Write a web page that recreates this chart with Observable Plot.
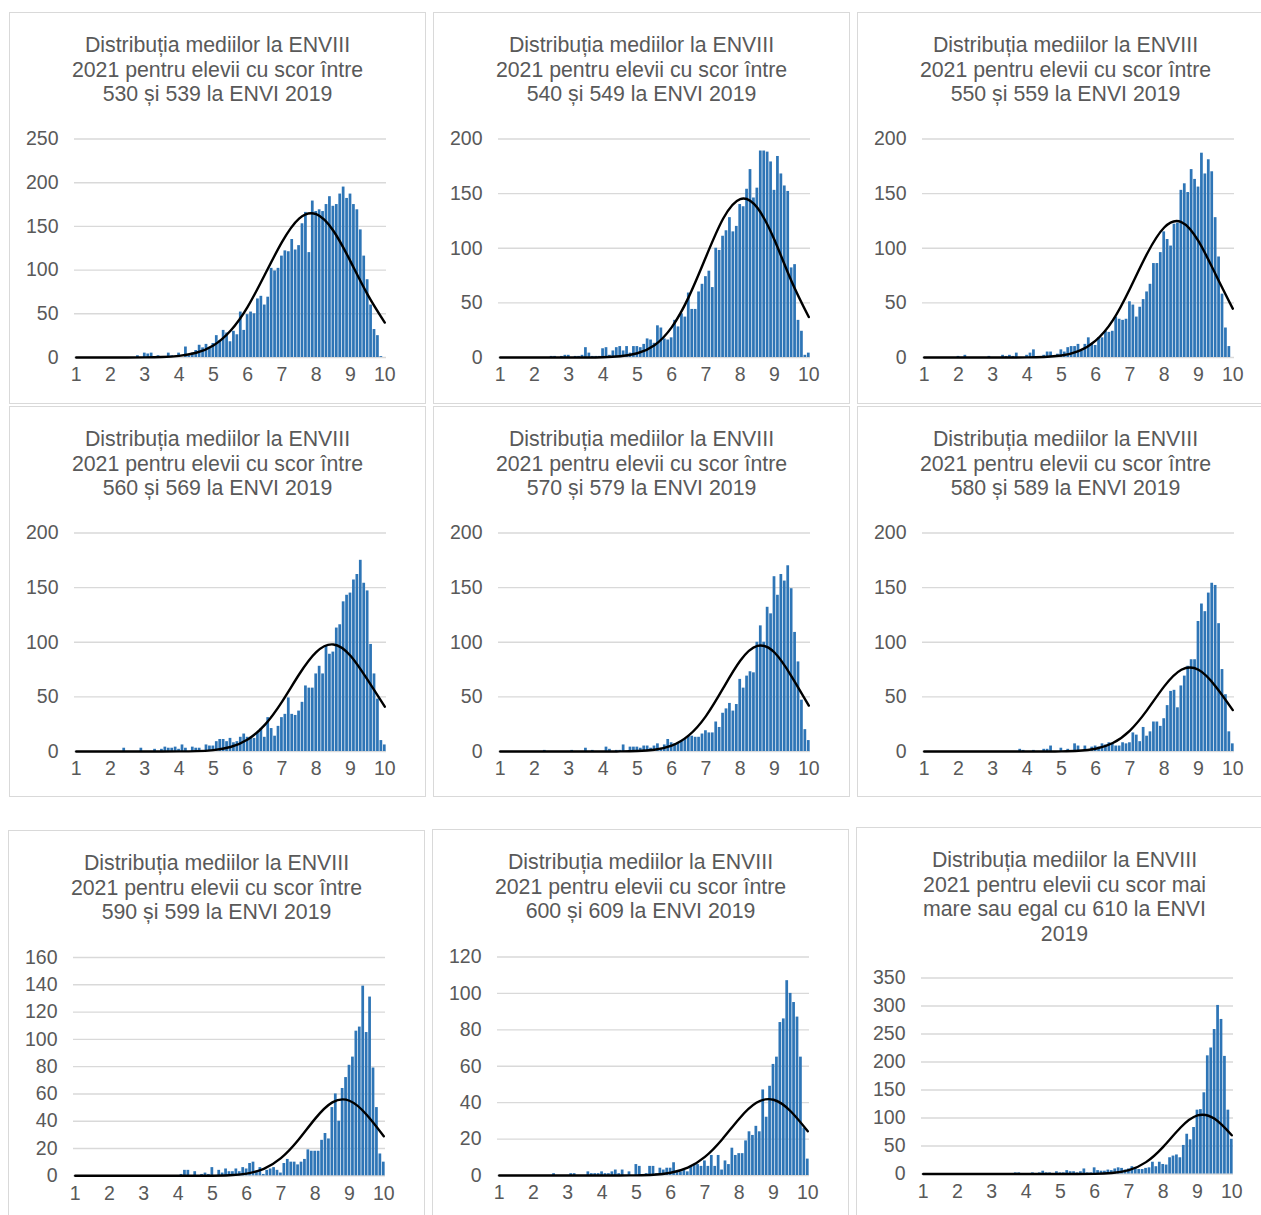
<!DOCTYPE html>
<html>
<head>
<meta charset="utf-8">
<script src="https://cdn.jsdelivr.net/npm/d3@7"></script>
<script src="https://cdn.jsdelivr.net/npm/@observablehq/plot@0.6"></script>
<style>
html,body{margin:0;padding:0;background:#fff;}
body{width:1261px;height:1215px;overflow:hidden;position:relative;font-family:"Liberation Sans",Arial,sans-serif;}
.panel{position:absolute;box-sizing:border-box;border:1px solid #d9d9d9;background:#fff;overflow:hidden;}
.title{position:absolute;left:0;right:0;top:20px;text-align:center;color:#595959;font-size:21.3px;line-height:24.5px;white-space:pre-line;}
.panel svg{position:absolute;left:0;top:0;}
</style>
</head>
<body>
<script>
// bins of the ENVIII 2021 average (category axis)
const bins = [1,1.1,1.2,1.3,1.4,1.5,1.6,1.7,1.8,1.9,
  2,2.1,2.2,2.3,2.4,2.5,2.6,2.7,2.8,2.9,
  3,3.1,3.2,3.3,3.4,3.5,3.6,3.7,3.8,3.9,
  4,4.1,4.2,4.3,4.4,4.5,4.6,4.7,4.8,4.9,
  5,5.1,5.2,5.3,5.4,5.5,5.6,5.7,5.8,5.9,
  6,6.1,6.2,6.3,6.4,6.5,6.6,6.7,6.8,6.9,
  7,7.1,7.2,7.3,7.4,7.5,7.6,7.7,7.8,7.9,
  8,8.1,8.2,8.3,8.4,8.5,8.6,8.7,8.8,8.9,
  9,9.1,9.2,9.3,9.4,9.5,9.6,9.7,9.8,9.9,
  10];
const xTicks = [1,2,3,4,5,6,7,8,9,10];

const titles = [
  "Distribuția mediilor la ENVIII\n2021 pentru elevii cu scor între\n530 și 539 la ENVI 2019",
  "Distribuția mediilor la ENVIII\n2021 pentru elevii cu scor între\n540 și 549 la ENVI 2019",
  "Distribuția mediilor la ENVIII\n2021 pentru elevii cu scor între\n550 și 559 la ENVI 2019",
  "Distribuția mediilor la ENVIII\n2021 pentru elevii cu scor între\n560 și 569 la ENVI 2019",
  "Distribuția mediilor la ENVIII\n2021 pentru elevii cu scor între\n570 și 579 la ENVI 2019",
  "Distribuția mediilor la ENVIII\n2021 pentru elevii cu scor între\n580 și 589 la ENVI 2019",
  "Distribuția mediilor la ENVIII\n2021 pentru elevii cu scor între\n590 și 599 la ENVI 2019",
  "Distribuția mediilor la ENVIII\n2021 pentru elevii cu scor între\n600 și 609 la ENVI 2019",
  "Distribuția mediilor la ENVIII\n2021 pentru elevii cu scor mai\nmare sau egal cu 610 la ENVI\n2019"
];

const counts530 = [0,0,0,0,0,0,0,0,0,0, 0,0,0,0,0,0,0,0,2,0, 5,4,5,0,2,1,0,5,2,0, 5,0,12,2,5,8,14,11,15,11,
  16,25,19,31,28,18,30,26,52,31, 49,52,50,67,70,60,69,102,99,102, 116,122,121,135,123,128,153,166,120,179,
  167,169,167,175,184,173,175,187,195,182, 187,175,169,146,116,89,60,32,25,1, 0];
const counts540 = [0,0,0,0,0,0,0,0,0,0, 0,0,0,0,0,1,1,0,1,2, 2,0,1,1,2,9,4,1,1,1, 8,9,2,6,9,10,6,10,4,10,
  10,9,12,17,16,13,29,27,17,16, 18,34,28,40,37,59,44,44,60,67, 74,79,64,100,98,111,116,128,115,120,
  140,138,154,172,146,155,189,189,188,179, 153,184,168,157,152,82,85,34,24,2, 4];
const counts550 = [0,0,0,0,0,0,0,0,0,0, 1,0,2,0,0,0,0,0,0,1, 0,0,0,2,1,2,1,4,0,0, 2,4,7,0,0,2,5,5,0,3,
  7,5,9,10,10,12,6,12,18,12, 11,18,18,24,23,24,37,35,34,35, 51,48,37,46,53,60,67,86,86,96,
  115,108,102,122,123,153,159,151,172,163, 156,187,168,181,170,128,92,58,27,10, 0];
const counts560 = [0,0,0,0,0,0,0,0,0,0, 0,0,0,0,3,0,0,0,0,3, 0,0,0,2,0,2,4,3,3,4, 2,6,3,0,4,3,3,0,6,5,
  5,9,11,11,9,12,8,9,13,16, 13,13,12,17,21,13,31,21,14,23, 31,34,49,34,33,37,45,60,58,58,
  71,78,71,97,89,91,113,116,137,143, 145,157,162,175,154,147,98,71,48,10, 6];
const counts570 = [0,0,0,0,0,0,0,0,0,0, 0,0,0,1,0,0,0,0,0,0, 0,1,0,0,0,3,0,1,0,0, 0,4,2,0,1,1,6,0,4,4,
  4,3,5,5,3,5,7,2,6,11, 8,7,8,10,11,14,14,13,13,16, 19,17,17,27,22,35,39,44,37,43,
  66,58,69,73,72,100,115,100,132,126, 160,143,162,156,170,149,109,82,47,20, 10];
const counts580 = [0,0,0,0,0,0,0,0,0,0, 0,0,0,0,0,0,0,0,0,0, 0,0,0,0,0,0,0,0,2,1, 0,0,1,0,0,2,2,5,0,0,
  3,0,2,0,7,5,0,5,0,4, 5,4,7,6,8,7,5,5,8,7, 8,17,15,9,22,14,18,27,27,23,
  30,42,55,56,40,60,69,78,84,84, 119,135,128,145,154,152,117,75,52,18, 7];
const counts590 = [0,0,0,0,0,0,0,0,0,0, 0,0,0,0,0,0,0,0,0,0, 0,0,0,0,0,0,0,0,0,0, 0,1,4,4,0,3,0,1,2,1,
  6,0,4,2,5,3,3,5,3,6, 5,9,10,3,6,1,4,5,6,4, 2,9,12,10,10,8,10,12,19,18,
  18,18,26,31,27,50,60,40,64,72, 81,87,106,109,139,105,131,79,50,16, 10];
const counts600 = [0,0,0,0,0,0,0,0,0,0, 0,0,0,0,0,0,1,0,0,0, 0,1,1,0,0,0,2,1,1,1, 2,1,1,2,3,1,3,0,2,0,
  6,5,0,1,5,5,1,4,3,4, 4,7,2,2,3,2,5,6,6,5, 8,5,11,5,11,3,8,6,15,11,
  12,12,19,24,22,27,24,47,32,49, 61,65,84,86,107,100,95,87,65,26, 9];
const counts610 = [0,0,0,0,0,0,0,0,0,0, 0,0,0,0,0,0,0,0,0,0, 0,0,0,0,0,0,0,2,2,0, 0,0,2,0,2,5,2,2,0,4,
  2,2,6,4,4,2,4,9,2,2, 11,6,5,5,7,6,9,11,10,7, 9,13,11,8,8,10,11,21,13,21,
  17,16,29,32,34,29,51,71,61,83, 114,115,145,211,225,258,301,276,210,114, 62];

// fitted normal curve, read at every half point
const curveX = [1,1.5,2,2.5,3,3.5,4,4.5,5,5.5,6,6.5,7,7.5,8,8.5,9,9.5,10];
const curve530 = [0,0,0,0,0.1,0.5,1.8,5.4,13.8,30.6,58,94.6,132,159,164,145,110,72,40];
const curve540 = [0,0,0,0,0,0.05,0.25,1.1,3.9,11.3,27.6,55.5,92,127,145,137,107.5,69.6,37];
const curve550 = [0,0,0,0,0,0,0.1,0.5,1.8,5.8,15.5,34,63,95,119,124,106.5,76,44.7];
const curve560 = [0,0,0,0,0,0,0.07,0.33,1.3,4.1,11,24.4,45.5,70.5,91,98,87.7,65.5,41];
const curve570 = [0,0,0,0,0,0,0,0.07,0.4,1.6,5.3,14.7,32.4,57.7,83,96.6,90.6,68.6,42];
const curve580 = [0,0,0,0,0,0,0,0,0.13,0.64,2.5,7.8,19.2,37.9,59.6,74.8,74.8,59.6,37.9];
const curve590 = [0,0,0,0,0,0,0,0,0.08,0.4,1.6,5.1,12.9,26,41.9,53.8,55,44.8,29];
const curve600 = [0,0,0,0,0,0,0,0,0.09,0.4,1.5,4.3,10.2,19.8,31.2,39.9,41.6,35.3,24.3];
const curve610 = [0,0,0,0,0,0,0,0,0,0,0.3,1.7,6.9,21.2,48.5,82.6,104.6,98.6,69.2];

const yTicks250 = [0,50,100,150,200,250];
const yTicks200 = [0,50,100,150,200];
const yTicks160 = [0,20,40,60,80,100,120,140,160];
const yTicks120 = [0,20,40,60,80,100,120];
const yTicks350 = [0,50,100,150,200,250,300,350];

const series = [
  {title: titles[0], counts: counts530, curve: curve530, yTicks: yTicks250},
  {title: titles[1], counts: counts540, curve: curve540, yTicks: yTicks200},
  {title: titles[2], counts: counts550, curve: curve550, yTicks: yTicks200},
  {title: titles[3], counts: counts560, curve: curve560, yTicks: yTicks200},
  {title: titles[4], counts: counts570, curve: curve570, yTicks: yTicks200},
  {title: titles[5], counts: counts580, curve: curve580, yTicks: yTicks200},
  {title: titles[6], counts: counts590, curve: curve590, yTicks: yTicks160},
  {title: titles[7], counts: counts600, curve: curve600, yTicks: yTicks120},
  {title: titles[8], counts: counts610, curve: curve610, yTicks: yTicks350}
];

// panel boxes (outer coordinates) and plot frame offsets inside each box
const layout = [
  {left: 9, top: 12, h: 392, plotTop: 126.5, base: 345},
  {left: 433, top: 12, h: 392, plotTop: 126.5, base: 345},
  {left: 857, top: 12, h: 392, plotTop: 126.5, base: 345},
  {left: 9, top: 406, h: 391, plotTop: 126.5, base: 345},
  {left: 433, top: 406, h: 391, plotTop: 126.5, base: 345},
  {left: 857, top: 406, h: 391, plotTop: 126.5, base: 345},
  {left: 8, top: 830, h: 400, plotTop: 127, base: 345.3},
  {left: 432, top: 829, h: 400, plotTop: 127.5, base: 346},
  {left: 856, top: 827, h: 400, plotTop: 150.5, base: 346.5}
];
const boxW = 417;
const frameLeft = 65, frameW = 312;

series.forEach((s, k) => {
  const L = layout[k];
  const div = document.createElement("div");
  div.className = "panel";
  div.style.left = L.left + "px";
  div.style.top = L.top + "px";
  div.style.width = boxW + "px";
  div.style.height = L.h + "px";
  document.body.appendChild(div);

  const W = boxW - 2, H = L.h - 2;
  const bars = bins.map((b, i) => ({b, n: s.counts[i]}));
  const line = curveX.map((x, i) => ({x, y: s.curve[i]}));
  const yMax = s.yTicks[s.yTicks.length - 1];
  const mL = frameLeft - 1;
  const svg = Plot.plot({
    width: W,
    height: H,
    marginLeft: mL,
    marginRight: W - mL - frameW,
    marginTop: L.plotTop - 1,
    marginBottom: H - (L.base - 1),
    style: {background: "transparent", color: "#595959", fontFamily: '"Liberation Sans", Arial, sans-serif', fontSize: "19.5px", overflow: "visible"},
    x: {domain: [0.95, 10.05]},
    y: {domain: [0, yMax]},
    marks: [
      Plot.gridY(s.yTicks, {stroke: "#d9d9d9", strokeOpacity: 1, strokeWidth: 1.4}),
      Plot.rect(bars, {x1: d => d.b - 0.05, x2: d => d.b + 0.05, y1: 0, y2: "n", fill: "#2e75b6", insetLeft: 0.35, insetRight: 0.35}),
      Plot.line(line, {x: "x", y: "y", stroke: "#000", strokeWidth: 2.4, curve: "natural"}),
      Plot.axisY(s.yTicks, {tickSize: 0, tickPadding: 16, label: null}),
      Plot.axisX(xTicks, {tickSize: 0, tickPadding: 10, label: null})
    ]
  });
  div.appendChild(svg);

  const t = document.createElement("div");
  t.className = "title";
  t.textContent = s.title;
  div.appendChild(t);
});
</script>
</body>
</html>
